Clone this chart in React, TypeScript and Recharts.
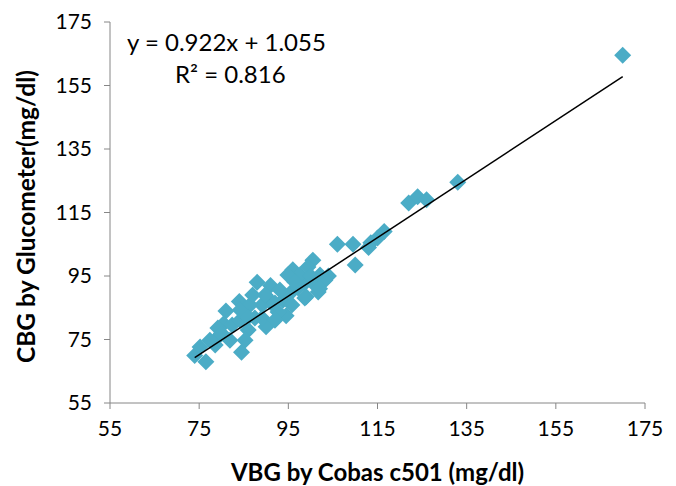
import React from 'react';
import { ScatterChart, Scatter, XAxis, YAxis, Label } from 'recharts';

// VBG (x) vs CBG (y)
const vbg = [
  74, 76.5, 84.5, 81, 84, 88, 91, 96, 100.5, 104, 106, 109.5, 110, 94.5, 90, 80.5, 86,
  122, 124, 126, 133, 170, 113.5, 115, 116.5, 113,
  78.6, 79.7, 82.4, 84.2, 85.3, 87.5, 89.1, 90.9, 92.7, 93.8, 95.4, 97.2, 98.7, 101,
  102.1, 97.6, 94.9, 93.1, 89.8, 86.4, 84.2, 89.1, 92, 95.8, 98.7, 101.7, 103.2, 99.4,
  81.9, 77.4, 87, 91.5, 96.5, 100, 75.2, 79.2, 99, 102, 92, 86, 80,
];
const cbg = [
  70, 68, 71, 84, 87, 93, 92, 97, 100, 95, 105, 105, 98.5, 82.5, 79, 80, 78,
  118, 120, 119, 124.5, 164.5, 105.5, 107, 109, 104,
  73.3, 76.4, 79.6, 81.1, 74.8, 81.8, 85.9, 87.4, 83.7, 87.4, 89.6, 91.2, 92.8, 92.2,
  95.3, 95.3, 95.3, 90.6, 89, 85.9, 84.3, 81.8, 81.1, 85.9, 88.1, 90, 93.7, 97.8,
  74.8, 74.8, 89, 86, 93, 95, 72.6, 78.6, 88.5, 91, 86.5, 82, 77,
];
const ticks = [55, 75, 95, 115, 135, 155, 175];

// linear trend as shown on the chart
const slope = 0.922;
const intercept = 1.055;

const points = vbg.map((x, i) => ({ x, y: cbg[i] }));
const minX = Math.min(...vbg);
const maxX = Math.max(...vbg);
const trend = [minX, maxX].map((x) => ({ x, y: slope * x + intercept }));

const font = 'Lato, "Open Sans", sans-serif';
const axisColor = '#868686';

const Diamond = (props: any) => {
  const { cx, cy } = props;
  const r = 8.5;
  return (
    <polygon
      points={`${cx},${cy - r} ${cx + r},${cy} ${cx},${cy + r} ${cx - r},${cy}`}
      fill="#4BACC6"
    />
  );
};

export default function App() {
  return (
    <div style={{ position: 'absolute', left: 0, top: 0, background: '#fff' }}>
      <ScatterChart
        width={676}
        height={486}
        margin={{ top: 22, right: 31, bottom: 0, left: 0 }}
        style={{ fontFamily: font }}
      >
        <XAxis
          type="number"
          dataKey="x"
          domain={[55, 175]}
          ticks={ticks}
          height={83}
          stroke={axisColor}
          tickSize={6}
          tick={{ fill: '#000', fontSize: 21 }}
          tickMargin={12}
          allowDataOverflow
        >
          <Label
            value="VBG by Cobas c501 (mg/dl)"
            position="insideBottom"
            offset={5}
            style={{ fontWeight: 'bold', fontSize: 24, fill: '#000' }}
          />
        </XAxis>
        <YAxis
          type="number"
          dataKey="y"
          domain={[55, 175]}
          ticks={ticks}
          width={110}
          stroke={axisColor}
          tickSize={6}
          tick={{ fill: '#000', fontSize: 21 }}
          tickMargin={12}
          allowDataOverflow
        >
          <Label
            content={({ viewBox }: any) => {
              const cx = 25;
              const cy = viewBox.y + viewBox.height / 2 + 4;
              return (
                <text
                  x={cx}
                  y={cy}
                  transform={`rotate(-90 ${cx} ${cy})`}
                  textAnchor="middle"
                  dominantBaseline="central"
                  style={{ fontWeight: 'bold', fontSize: 24.5, fill: '#000', fontFamily: font }}
                >
                  CBG by Glucometer(mg/dl)
                </text>
              );
            }}
          />
        </YAxis>
        <Scatter data={points} shape={<Diamond />} isAnimationActive={false} />
        <Scatter
          data={trend}
          line={{ stroke: '#000', strokeWidth: 1.5 }}
          shape={() => null}
          isAnimationActive={false}
        />
        <text x={127} y={51} style={{ fontSize: 24, fontFamily: font }} fill="#000">
          y = 0.922x + 1.055
        </text>
        <text x={175} y={83} style={{ fontSize: 24, fontFamily: font }} fill="#000">
          R² = 0.816
        </text>
      </ScatterChart>
    </div>
  );
}
